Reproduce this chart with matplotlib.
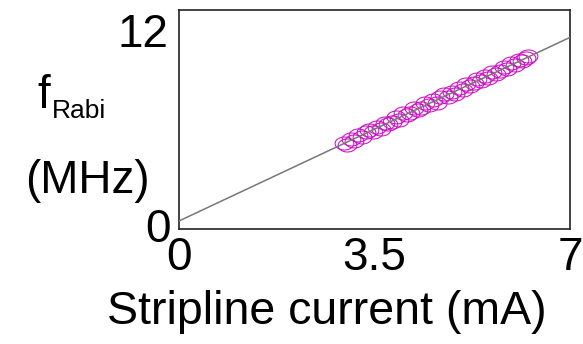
import numpy as np
import matplotlib
matplotlib.use("Agg")
import matplotlib.pyplot as plt
from matplotlib.path import Path

plt.rcParams['font.family'] = ['Liberation Sans', 'DejaVu Sans']

# Data
theory_x = [0.0, 7.0]
theory_y = [0.44, 10.5]

meas_x = [2.95, 3.01, 3.08, 3.14, 3.21, 3.28, 3.34, 3.41, 3.48, 3.54,
          3.61, 3.68, 3.74, 3.81, 3.88, 3.94, 4.01, 4.08, 4.14, 4.21,
          4.28, 4.34, 4.41, 4.48, 4.54, 4.61, 4.68, 4.74, 4.81, 4.88,
          4.94, 5.01, 5.08, 5.14, 5.21, 5.28, 5.34, 5.41, 5.48, 5.54,
          5.61, 5.68, 5.74, 5.81, 5.88, 5.94, 6.01, 6.08, 6.14, 6.21, 6.25]
meas_y = [4.73, 4.62, 4.95, 4.83, 5.15, 5.04, 5.29, 5.42, 5.30, 5.60,
          5.50, 5.82, 5.73, 5.85, 6.12, 5.97, 6.36, 6.25, 6.35, 6.63,
          6.51, 6.63, 6.90, 6.78, 7.05, 6.92, 7.25, 7.38, 7.22, 7.52,
          7.40, 7.74, 7.64, 7.95, 7.86, 7.98, 8.23, 8.10, 8.40, 8.27,
          8.63, 8.52, 8.65, 8.90, 8.78, 9.08, 8.96, 9.28, 9.18, 9.36, 9.47]

xticks = [0, 3.5, 7]
xtick_labels = ["0", "3.5", "7"]

W, H = 583, 344
fig = plt.figure(figsize=(W / 100, H / 100), dpi=100)
ax = fig.add_axes([179 / W, 1 - 229 / H, (570 - 179) / W, (229 - 10) / H])

# elliptical hollow marker (wider than tall)
t = np.linspace(0, 2 * np.pi, 60)
ell = Path(np.column_stack([0.75 * np.cos(t), 0.52 * np.sin(t)]))

ax.plot(theory_x, theory_y, color='#777777', lw=1.1, zorder=3)
ax.plot(meas_x, meas_y, linestyle='none', marker=ell, markersize=13.5,
        markerfacecolor='none', markeredgecolor='#cc10c4', markeredgewidth=0.75,
        zorder=2)

ax.set_xlim(0, 7)
ax.set_ylim(0, 12)
ax.set_xticks(xticks)
ax.set_xticklabels(xtick_labels, fontsize=33)
ax.tick_params(axis='x', length=0, pad=5)
ax.set_yticks([])
for s in ax.spines.values():
    s.set_linewidth(1.2)
    s.set_color('#222222')

def ftext(x, y, s, size=33, ha='center'):
    fig.text(x / W, 1 - y / H, s, fontsize=size, ha=ha, va='baseline')

ftext(168, 47, "12", ha='right')
ftext(171, 242, "0", ha='right')
ftext(37, 108, "f", ha='left')
ftext(52, 118, "Rabi", size=19, ha='left')
ftext(87.5, 193, "(MHz)")
ftext(327, 324, "Stripline current (mA)", size=33.5)

fig.savefig("out.png", dpi=100)
